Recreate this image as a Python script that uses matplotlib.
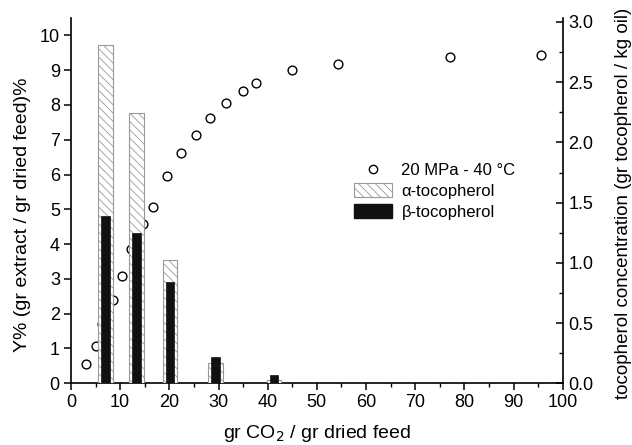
import matplotlib
matplotlib.use("Agg")
import matplotlib.pyplot as plt
from matplotlib.patches import Patch
from matplotlib.lines import Line2D
from matplotlib.ticker import MultipleLocator

# extraction yield curve (left axis)
co2_ratio = [3.0, 5.0, 6.4, 8.5, 10.4, 12.3, 14.7, 16.7, 19.5, 22.4,
             25.5, 28.3, 31.6, 35.0, 37.7, 44.9, 54.4, 77.1, 95.6]
yield_pct = [0.55, 1.07, 1.70, 2.39, 3.07, 3.86, 4.58, 5.08, 5.95, 6.63,
             7.14, 7.63, 8.06, 8.41, 8.63, 9.00, 9.18, 9.38, 9.45]

# tocopherol concentration per fraction (right axis)
fraction_x = [7.0, 13.3, 20.2, 29.4, 41.3]
alpha_toc = [2.81, 2.24, 1.02, 0.17, 0.025]
beta_toc = [1.39, 1.25, 0.84, 0.22, 0.07]

plt.rcParams['font.family'] = ['Liberation Sans', 'DejaVu Sans']
plt.rcParams['font.size'] = 12
plt.rcParams['hatch.linewidth'] = 0.6
plt.rcParams['hatch.color'] = '#888888'

fig = plt.figure(figsize=(6.32, 4.45), dpi=100)
ax1 = fig.add_axes([0.1123, 0.1387, 0.7781, 0.8209])
ax2 = ax1.twinx()

ax1.scatter(co2_ratio, yield_pct, s=40, facecolors='white', edgecolors='black',
            linewidths=1.0, zorder=2)

ax2.bar(fraction_x, alpha_toc, width=2.9, color='white', edgecolor='#999999',
        hatch='\\\\\\\\', linewidth=0.8)
ax2.bar(fraction_x, beta_toc, width=1.7, color='#111111', edgecolor='#111111',
        linewidth=0.5)

ax1.set_xlim(0, 100)
ax1.set_ylim(0, 10.5)
ax2.set_ylim(0, 3.033)

ax1.xaxis.set_major_locator(MultipleLocator(10))
ax1.xaxis.set_minor_locator(MultipleLocator(5))
ax1.yaxis.set_major_locator(MultipleLocator(1))
ax2.yaxis.set_major_locator(MultipleLocator(0.5))
ax2.yaxis.set_minor_locator(MultipleLocator(0.25))
ax2.yaxis.set_major_formatter(matplotlib.ticker.FormatStrFormatter('%.1f'))

for ax in (ax1, ax2):
    ax.spines['top'].set_visible(False)
    for s in ax.spines.values():
        s.set_linewidth(1.2)
ax1.spines['right'].set_visible(False)
ax2.spines['left'].set_visible(False)
ax2.spines['bottom'].set_visible(False)

ax1.tick_params(axis='both', which='major', direction='out', length=5, width=1.1,
                labelsize=13, pad=3)
ax1.tick_params(axis='x', which='minor', direction='out', length=3, width=1.0)
ax2.tick_params(axis='y', which='major', direction='in', length=5, width=1.1,
                labelsize=13, pad=4)
ax2.tick_params(axis='y', which='minor', direction='in', length=3, width=1.0)

ax1.set_xlabel('gr CO$_2$ / gr dried feed', fontsize=14, labelpad=8)
ax1.set_ylabel('Y% (gr extract / gr dried feed)%', fontsize=14)
ax1.yaxis.set_label_coords(-0.082, 0.46)
ax2.set_ylabel('tocopherol concentration (gr tocopherol / kg oil)', fontsize=13.5)
ax2.yaxis.set_label_coords(1.106, 0.492)

handles = [
    Line2D([], [], marker='o', linestyle='none', markerfacecolor='white',
           markeredgecolor='black', markersize=6),
    Patch(facecolor='white', edgecolor='#999999', hatch='\\\\\\\\', linewidth=0.8),
    Patch(facecolor='#111111', edgecolor='#111111'),
]
labels = ['20 MPa - 40 \u00b0C', '\u03b1-tocopherol', '\u03b2-tocopherol']
ax2.legend(handles, labels, loc='upper left', bbox_to_anchor=(0.545, 0.645),
           frameon=False, fontsize=12, handlelength=2.3, handleheight=0.9,
           labelspacing=0.3, handletextpad=0.55)

fig.savefig('out.png', dpi=100)
